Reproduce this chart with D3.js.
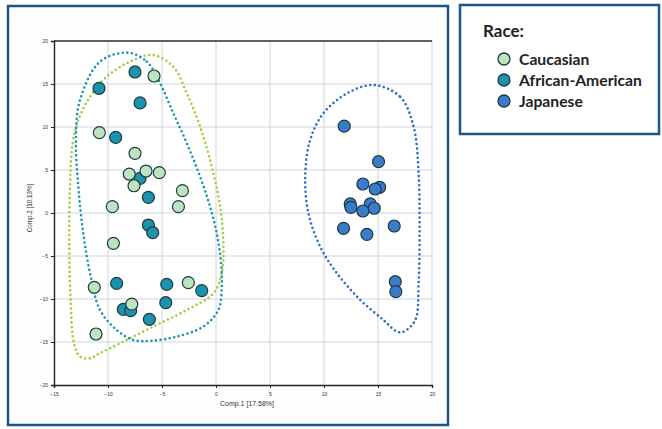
<!DOCTYPE html>
<html>
<head>
<meta charset="utf-8">
<script src="https://cdn.jsdelivr.net/npm/d3@7"></script>
<style>
  body { margin: 0; background: #fff; }
  svg { display: block; }
</style>
</head>
<body>
<svg id="chart" width="662" height="429"></svg>
<script>
// Scores on the first two components, by group
const caucasian = [
  [-5.74, 15.93], [-10.8, 9.34], [-7.5, 6.94], [-8.03, 4.53], [-6.48, 4.88],
  [-5.25, 4.69], [-7.59, 3.17], [-3.11, 2.6], [-9.6, 0.74], [-3.48, 0.74],
  [-9.5, -3.53], [-11.27, -8.64], [-2.56, -8.1], [-7.8, -10.6], [-11.11, -14.07]
];
const africanAmerican = [
  [-7.5, 16.4], [-10.83, 14.5], [-7.03, 12.8], [-9.29, 8.8], [-7.03, 4.03],
  [-6.26, 1.82], [-6.26, -1.4], [-5.86, -2.29], [-9.2, -8.18], [-4.56, -8.3],
  [-1.32, -9.03], [-4.65, -10.43], [-8.58, -11.2], [-7.9, -11.36], [-6.17, -12.36]
];
const japanese = [
  [11.87, 10.1], [15.05, 5.97], [13.6, 3.37], [15.15, 2.99], [14.74, 2.79],
  [12.43, 1.05], [12.49, 0.66], [14.28, 1.05], [14.65, 0.55], [13.6, 0.23],
  [11.81, -1.78], [13.97, -2.48], [16.5, -1.51], [16.6, -7.99], [16.65, -9.15]
];

// Hand-traced group envelopes (dotted outlines)
const hullCaucasian = [
  [-5.86, 18.37], [-3.95, 17.0], [-2.7, 13.9], [-1.47, 10.03], [-0.39, 5.38],
  [0.38, 0.74], [0.69, -3.92], [0.53, -7.01], [-0.24, -9.34], [-2.7, -11.28],
  [-5.8, -13.2], [-8.89, -15.15], [-10.74, -16.3], [-11.67, -16.9], [-12.6, -16.7],
  [-13.15, -15.15], [-13.46, -10.1], [-13.58, -4.3], [-13.52, 3.06], [-13.27, 8.1],
  [-12.75, 10.8], [-11.67, 13.5], [-10.12, 15.85], [-7.96, 17.6]
];
const hullAfrican = [
  [-8.17, 18.64], [-6.41, 17.6], [-5.18, 15.08], [-3.95, 11.6], [-2.7, 8.1],
  [-1.47, 4.22], [-0.55, 0.74], [0.07, -2.36], [0.44, -5.47], [0.53, -8.57],
  [0.22, -11.28], [-1.17, -13.2], [-3.64, -14.38], [-5.95, -14.85], [-7.66, -14.77],
  [-9.2, -13.6], [-10.74, -11.28], [-11.6, -7.4], [-12.29, -2.36], [-12.75, 3.06],
  [-12.97, 8.5], [-12.6, 13.1], [-10.74, 17.6]
];
const hullJapanese = [
  [14.59, 14.88], [17.06, 13.5], [18.3, 10.03], [18.76, 4.6], [18.85, -1.6],
  [18.76, -8.17], [18.45, -12.44], [17.37, -13.8], [16.76, -13.8], [15.5, -12.44],
  [13.35, -10.1], [11.2, -7.01], [9.65, -3.92], [8.56, -0.04], [8.26, 4.22],
  [8.72, 8.49], [9.95, 11.6], [12.12, 13.9]
];

const xTicks = [-15, -10, -5, 0, 5, 10, 15, 20];
const yTicks = [-20, -15, -10, -5, 0, 5, 10, 15, 20];
const legendLabels = ['Caucasian', 'African-American', 'Japanese'];

const colors = {
  caucasian: '#bde3c0',
  african: '#1b93ae',
  japanese: '#3a7ccc',
  hullGreen: '#9fce3e',
  hullTeal: '#1597ae',
  hullBlue: '#2a6fc2',
  frame: '#1d5585',
  grid: '#d2d4dc'
};

const svg = d3.select('#chart');

// Outer frames
svg.append('rect')
  .attr('x', 8).attr('y', 6).attr('width', 440).attr('height', 419)
  .attr('fill', '#fdfdfd').attr('stroke', colors.frame).attr('stroke-width', 2.5);
svg.append('rect')
  .attr('x', 460).attr('y', 5).attr('width', 199).attr('height', 129)
  .attr('fill', '#fff').attr('stroke', colors.frame).attr('stroke-width', 2.5);

// Plot area
const margin = { left: 54, top: 41, right: 432, bottom: 385 };
const x = d3.scaleLinear().domain([-15, 20]).range([margin.left, margin.right]);
const y = d3.scaleLinear().domain([-20, 20]).range([margin.bottom, margin.top]);

const g = svg.append('g');

g.append('rect')
  .attr('x', margin.left).attr('y', margin.top)
  .attr('width', margin.right - margin.left).attr('height', margin.bottom - margin.top)
  .attr('fill', '#fff');

// Gridlines
g.append('g').selectAll('line').data(xTicks.slice(1))
  .join('line')
  .attr('x1', d => x(d)).attr('x2', d => x(d))
  .attr('y1', margin.top).attr('y2', margin.bottom)
  .attr('stroke', colors.grid).attr('stroke-width', 1);
g.append('g').selectAll('line').data(yTicks.slice(1))
  .join('line')
  .attr('x1', margin.left).attr('x2', margin.right)
  .attr('y1', d => y(d)).attr('y2', d => y(d))
  .attr('stroke', colors.grid).attr('stroke-width', 1);

// Top border
g.append('line')
  .attr('x1', margin.left).attr('x2', margin.right)
  .attr('y1', margin.top).attr('y2', margin.top)
  .attr('stroke', '#333').attr('stroke-width', 1.3);

// Axes
const xAxis = g.append('g')
  .attr('transform', `translate(0,${margin.bottom})`)
  .call(d3.axisBottom(x).tickValues(xTicks).tickSize(3).tickFormat(d3.format('d')));
const yAxis = g.append('g')
  .attr('transform', `translate(${margin.left},0)`)
  .call(d3.axisLeft(y).tickValues(yTicks).tickSize(3).tickFormat(d3.format('d')));

[xAxis, yAxis].forEach(a => {
  a.select('.domain').attr('stroke', '#222').attr('stroke-width', 1.4);
  a.selectAll('.tick line').attr('stroke', '#222');
  a.selectAll('.tick text')
    .attr('fill', '#333')
    .style('font-family', 'Liberation Sans, Arial, sans-serif')
    .style('font-size', '5px');
});
xAxis.selectAll('.tick text').attr('dy', '0.9em');

// Axis titles
svg.append('text')
  .attr('x', 247).attr('y', 406)
  .attr('text-anchor', 'middle')
  .style('font-family', 'Liberation Sans, Arial, sans-serif')
  .style('font-size', '7px')
  .attr('fill', '#333')
  .text('Comp.1 [17.58%]');
svg.append('text')
  .attr('transform', 'translate(32,208) rotate(-90)')
  .attr('text-anchor', 'middle')
  .style('font-family', 'Liberation Sans, Arial, sans-serif')
  .style('font-size', '6.3px')
  .attr('fill', '#333')
  .text('Comp.2 [10.13%]');

// Dotted envelopes
const hullLine = d3.line()
  .x(d => x(d[0]))
  .y(d => y(d[1]))
  .curve(d3.curveCatmullRomClosed.alpha(0.5));

[
  [hullCaucasian, colors.hullGreen],
  [hullAfrican, colors.hullTeal],
  [hullJapanese, colors.hullBlue]
].forEach(([pts, c]) => {
  g.append('path')
    .attr('d', hullLine(pts))
    .attr('fill', 'none')
    .attr('stroke', c)
    .attr('stroke-width', 2.6)
    .attr('stroke-linecap', 'round')
    .attr('stroke-dasharray', '0 4.6');
});

// Points
function drawPoints(data, fill) {
  g.append('g').selectAll('circle').data(data)
    .join('circle')
    .attr('cx', d => x(d[0]))
    .attr('cy', d => y(d[1]))
    .attr('r', 6)
    .attr('fill', fill)
    .attr('stroke', '#1f3b40')
    .attr('stroke-width', 1.2);
}
drawPoints(japanese, colors.japanese);
drawPoints(africanAmerican, colors.african);
drawPoints(caucasian, colors.caucasian);

// Legend
const legend = svg.append('g');
legend.append('text')
  .attr('x', 483).attr('y', 37)
  .style('font-family', 'Lato, Carlito, sans-serif')
  .style('font-weight', 'bold')
  .style('font-size', '17px')
  .attr('fill', '#222')
  .text('Race:');

const legendFill = [colors.caucasian, colors.african, colors.japanese];
legend.selectAll('g.item').data(legendLabels)
  .join('g')
  .attr('class', 'item')
  .attr('transform', (d, i) => `translate(504,${59 + i * 21})`)
  .each(function(d, i) {
    const item = d3.select(this);
    item.append('circle')
      .attr('r', 6)
      .attr('fill', legendFill[i])
      .attr('stroke', '#1f3b40')
      .attr('stroke-width', 1.3);
    item.append('text')
      .attr('x', 15).attr('y', 5.5)
      .style('font-family', 'Lato, Carlito, sans-serif')
      .style('font-weight', 'bold')
      .style('font-size', '15.7px')
      .attr('fill', '#222')
      .text(d);
  });
</script>
</body>
</html>
